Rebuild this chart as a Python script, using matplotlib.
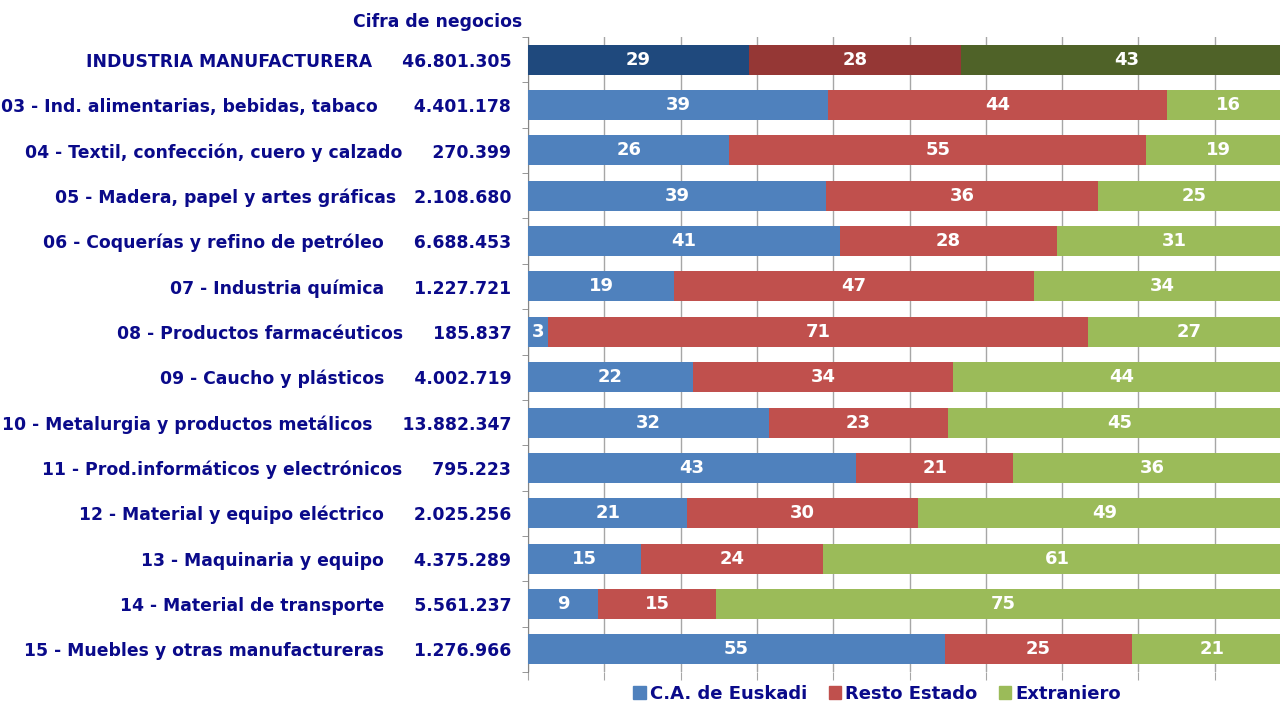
import matplotlib.pyplot as plt
from matplotlib.patches import Patch
import numpy as np

# sectores (con los espacios de la etiqueta original) y cifra de negocios
sectores = [
    "INDUSTRIA MANUFACTURERA     46.801.305",
    "03 - Ind. alimentarias, bebidas, tabaco      4.401.178",
    "04 - Textil, confección, cuero y calzado     270.399",
    "05 - Madera, papel y artes gráficas   2.108.680",
    "06 - Coquerías y refino de petróleo     6.688.453",
    "07 - Industria química     1.227.721",
    "08 - Productos farmacéuticos     185.837",
    "09 - Caucho y plásticos     4.002.719",
    "10 - Metalurgia y productos metálicos     13.882.347",
    "11 - Prod.informáticos y electrónicos     795.223",
    "12 - Material y equipo eléctrico     2.025.256",
    "13 - Maquinaria y equipo     4.375.289",
    "14 - Material de transporte     5.561.237",
    "15 - Muebles y otras manufactureras     1.276.966",
]

# % de la cifra de negocios por destino
euskadi = [28.9, 39.3, 26.4, 39.1, 40.9, 19.2, 2.6, 21.6, 31.6, 43.0, 20.9, 14.8, 9.2, 54.6]
resto = [27.9, 44.4, 54.6, 35.6, 28.4, 47.1, 70.8, 34.1, 23.4, 20.6, 30.2, 23.9, 15.4, 24.6]
extranjero = [43.2, 16.3, 19.0, 25.3, 30.7, 33.7, 26.6, 44.3, 45.0, 36.4, 48.9, 61.3, 75.4, 20.8]

series = ["C.A. de Euskadi", "Resto Estado", "Extraniero"]
colores = ["#4F81BD", "#C0504D", "#9BBB59"]
colores_total = ["#1F497D", "#953735", "#4F6228"]
azul = "#0A0A8A"

plt.rcParams['font.family'] = ['DejaVu Sans']
plt.rcParams['font.weight'] = 'bold'

fig = plt.figure(figsize=(12.8, 7.01), dpi=100)
ax = fig.add_axes([528 / 1280, 29 / 701, 763 / 1280, 635 / 701])

y = np.arange(len(sectores))
left = np.zeros(len(sectores))
for i, vals in enumerate([euskadi, resto, extranjero]):
    vals = np.array(vals)
    cols = [colores_total[i]] + [colores[i]] * (len(vals) - 1)
    b = ax.barh(y, vals, left=left, height=0.66, color=cols, label=series[i], zorder=3)
    ax.bar_label(b, labels=[f"{v:.0f}" for v in vals], label_type='center',
                 color='white', fontsize=13, fontweight='bold')
    left += vals

ax.set_xlim(0, 100)
ax.set_ylim(len(sectores) - 0.5, -0.5)
ax.set_xticks(np.arange(0, 101, 10))
ax.set_xticklabels([])
ax.grid(axis='x', color='#A6A6A6', linewidth=1, zorder=0)
ax.tick_params(axis='x', length=6, color='#A6A6A6', direction='out')

ax.set_yticks(y)
ax.set_yticklabels(sectores, fontsize=12.4, color=azul, fontweight='bold')
ax.tick_params(axis='y', length=0, pad=12)
ax.set_yticks(np.arange(-0.5, len(sectores)), minor=True)
ax.tick_params(axis='y', which='minor', length=4, color='#868686')

for s in ['top', 'right', 'bottom']:
    ax.spines[s].set_visible(False)
ax.spines['left'].set_color('#868686')

fig.text(522 / 1280, 1 - 22 / 701, "Cifra de negocios", ha='right', va='center',
         fontsize=12.4, color=azul, fontweight='bold')

h = [Patch(color=c) for c in colores]
fig.legend(h, series, loc='center', bbox_to_anchor=(877 / 1280, 1 - 694 / 701),
           ncol=3, frameon=False, handlelength=0.7, handleheight=0.7,
           handletextpad=0.2, columnspacing=1.2,
           prop={'size': 13, 'weight': 'bold'}, labelcolor=azul)

fig.savefig("out.png", dpi=100)
